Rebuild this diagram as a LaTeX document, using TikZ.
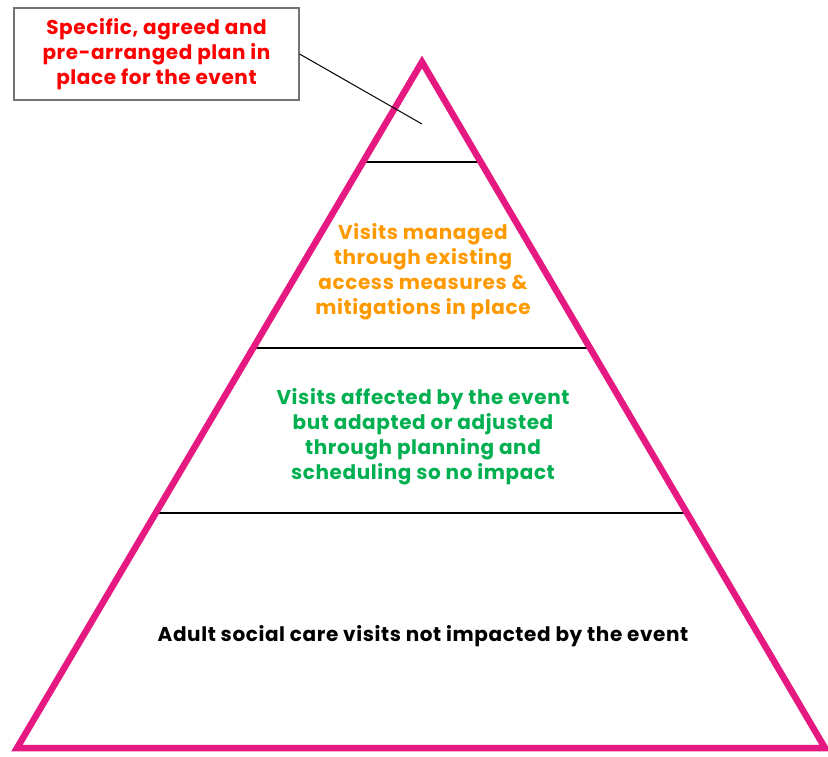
\documentclass[tikz,border=0pt]{standalone}
\usepackage{fontspec}
\setmainfont{Poppins}[LetterSpace=3]
\usetikzlibrary{calc}
\definecolor{pyrpink}{RGB}{230,25,130}
\definecolor{pyrorange}{RGB}{255,153,0}
\definecolor{pyrgreen}{RGB}{0,176,80}
\definecolor{pyrred}{RGB}{255,0,0}
\tikzset{
  level/.style={align=center, font=\fontsize{20}{25}\selectfont\bfseries},
  divider/.style={line width=2pt, black},
}
\begin{document}
\begin{tikzpicture}[x=1pt, y=-1pt]
    \useasboundingbox (0, 0) rectangle (828, 756) ;
    \coordinate (apex) at (422, 62) ;
    \coordinate (left) at (17, 748) ;
    \coordinate (right) at (825, 748) ;
    % dividing lines
    \draw[divider] ($(apex)!0.1458!(left)$) -- ($(apex)!0.1458!(right)$) ;
    \draw[divider] ($(apex)!0.4169!(left)$) -- ($(apex)!0.4169!(right)$) ;
    \draw[divider] ($(apex)!0.6574!(left)$) -- ($(apex)!0.6574!(right)$) ;
    % pyramid
    \draw[pyrpink, line width=6.5pt, line join=miter] (apex) -- (left) -- (right) -- cycle ;
    % levels
    \node[level, text=pyrorange] (managed) at (423, 272)
      {Visits managed\\through existing\\access measures \&\\mitigations in place} ;
    \node[level, text=pyrgreen] (adapted) at (423, 437)
      {Visits affected by the event\\but adapted or adjusted\\through planning and\\scheduling so no impact} ;
    \node[level, text=black] (unaffected) at (423, 636)
      {Adult social care visits not impacted by the event} ;
    % callout
    \node[level, text=pyrred, draw=black!55, line width=1.2pt, minimum width=285pt,
      minimum height=92pt] (plan) at (156.5, 54)
      {Specific, agreed and\\pre-arranged plan in\\place for the event} ;
    \coordinate (tip) at (422, 124) ;
    \draw[line width=1pt] (plan.east) -- (tip) ;
\end{tikzpicture}
\end{document}
